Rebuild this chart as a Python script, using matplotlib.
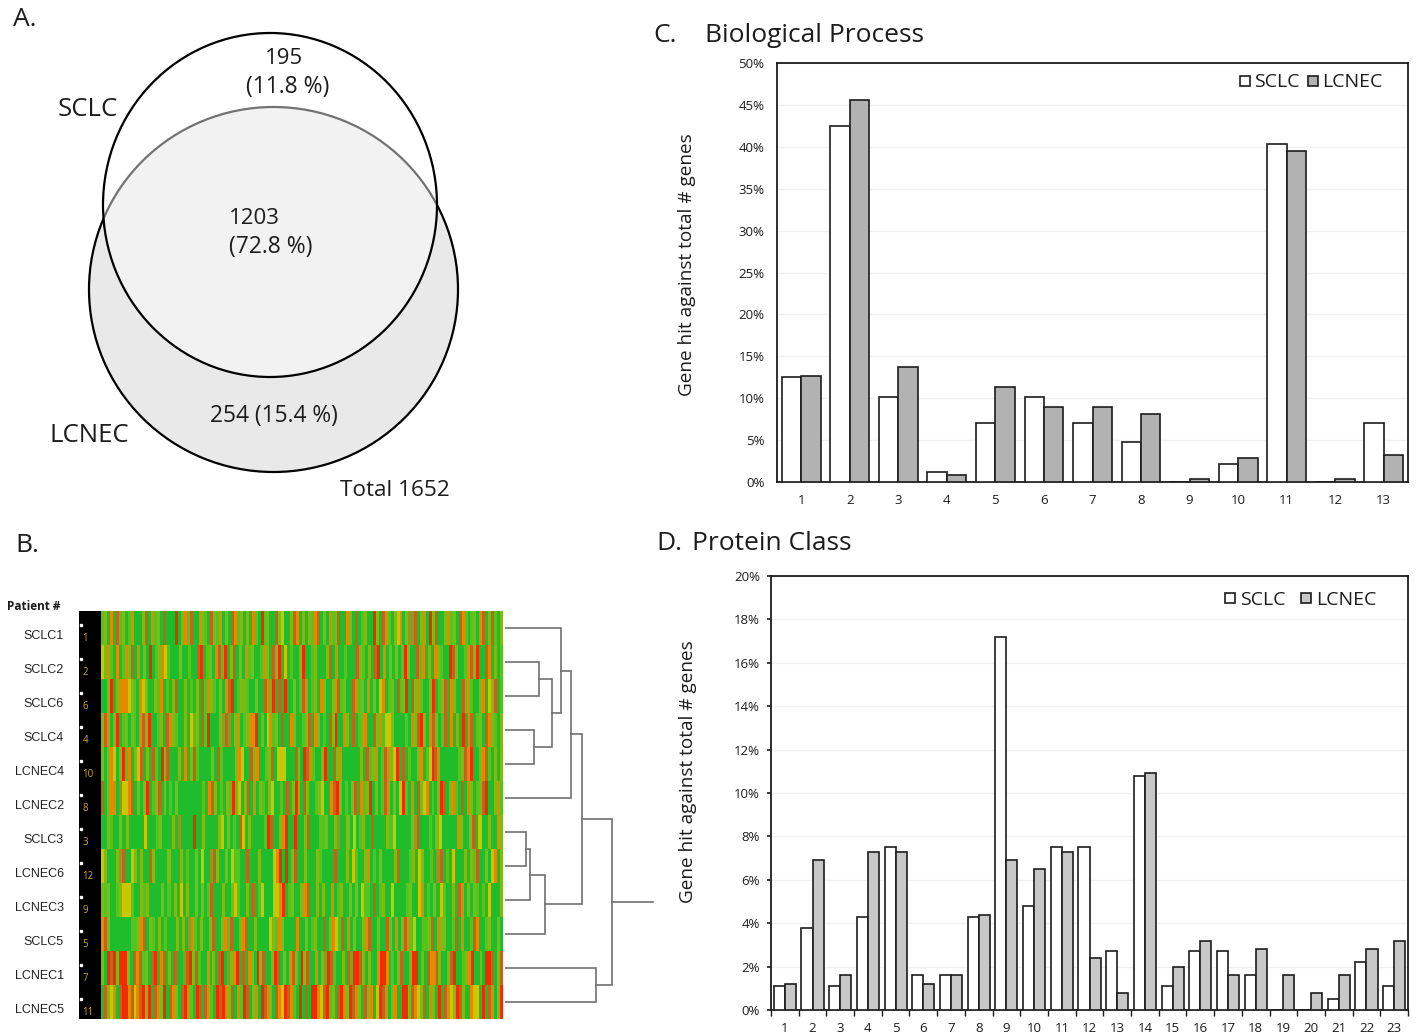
import numpy as np
import matplotlib
matplotlib.use('Agg')
import matplotlib.pyplot as plt
from matplotlib.colors import ListedColormap
from matplotlib.lines import Line2D
from matplotlib.patches import Ellipse

W, H = 1416, 1035

# panel A
venn_counts = [195, 1203, 254]
venn_pcts = [11.8, 72.8, 15.4]
venn_total = 1652

# panel B
patients = ['SCLC1', 'SCLC2', 'SCLC6', 'SCLC4', 'LCNEC4', 'LCNEC2',
            'SCLC3', 'LCNEC6', 'LCNEC3', 'SCLC5', 'LCNEC1', 'LCNEC5']
patient_ids = [1, 2, 6, 4, 10, 8, 3, 12, 9, 5, 7, 11]
# one letter per stripe, read by eye: g green, l light green, k olive green,
# b olive brown, y yellow, o orange, m rust, r red
level_names = 'glkbyomr'
level_colors = ['#1fbd2c', '#55c41e', '#7fbb14', '#8f9a20', '#c9c800', '#e58a00', '#c0651a', '#f22c00']
heat_rows = [
    'lkgogmlkglogggkmgolkgmgggrgkolmggoklgmklogkgmolkgkgolgrlkggmkyggkmogkgklomgkgolkmggokgmglkggrkgmolgkyogkbbmgkogrkmggkolkgmolglkgomgkmlgk',
    'ykolgoglokmgogkgrglkoylgggkgglggmrglkgomlrgkmgkgolkgglokgmkrgyglggkrgglkgggkmgogglgggmklgkgmrgogkgkglrkggmlogkgoklggrmkgglomkrggmogkgl',
    'ggkrgkoooyklgoykggkloglgkmggkglgkgmloklgkgomrglkklggkggmolrgmgrggkglmoglkgokggkomlkggmolkgogkgyoglkgmlkrgmkolggkrglkmgokggmkolggkogykmgl',
    'kmogkrglkgklgomkrgglkgmoklggkgylkgmlrgggkbmbgkoglkoorgkgyolkgmggokgglkmgokglgmkrggokgmglkoggmkolyykgggglgokmrkgomkglmgogkgrgomglkgmoklgk',
    'kgkoygkrlogkymgkgmlgrkmgggkgogkmlggggkgmlggggkoyggmkogglkmgyyygggmkgrmolggkrggmkoggggggkgmlkoglmokyrgmglggkoglyrmogggggglkmorggkomlgkgk',
    'mgkoogbyyomgkgkrglkmgkglgkgggggggglgomkglgklrlygkmgogklgkygglgmgkrogmkgglkyggomrkglgkmgolkrgkglmogkgyrlgogmkyoglgkrmgkolgmgokglkmrggkol',
    'ggklggkgkgggggyggglkgggkgbggggrggkggggkygkglgmygkgggglrmggkorggrggkmgggllkggkbggkgyglkggmggggklygggggkbmggglgkygggggokggkmgyggkggok',
    'ykgggkbmggykgkggmkggggkgggkglggkgyggbmkggkgyllggmgggkggggyorgrgkmggkgggklggggmgggkgylggkoglgkggggkmggglkgykgglgbmglgygggkgklmggkgyogk',
    'klkgglkyyylggklkggggkglgkgygkggkgkglmgggkggkylggkgmglygggyyorglkggkomggkgkggoglkggkgkgyllgmglkggygggglkggyoglgkgylggkgmogkgklglgygggk',
    'omkgggggggllkomgklgkglgggkgkgbolgkggkmggkolmggkomggkggggyklokggggoggkglkggmgkoylmgogkggkomggkggmkgogkmolyggllkmgokkgglmgogglmogglkggkg',
    'kgrmrkrrrkgmomlkgmrgomgkgmggbmrkmlggogkgmrgbkorgmgokgrkmggkrmgkgomkgrkmggogkbrmlggkgmbrrmkgkggorroglgkmggkrrgkgmoomkggkmrgglkorggkgrrmgkm',
    'gmkyogmrromyomrkrgmokrgmokgmrolgrmgmolgrmrokmgolrmgkogrmokgmoyrmolgrgmgrroymrlkgmrokrmokgmkogyrmogkoggrrkmoykmgokgrgmoykrmkggoyygrgmogkr',
]
# dendrogram merges: left node, right node, height in px from the heatmap
# node numbers below 12 are leaves, 12 and up are earlier merges
dendro_merges = [
    (1, 2, 34), (3, 4, 29), (12, 13, 47), (0, 14, 56), (15, 5, 66),
    (6, 7, 21), (17, 8, 25), (18, 9, 40), (16, 19, 77),
    (10, 11, 91), (20, 21, 107),
]
dendro_root_end = 148

# panel C
bio_cats = list(range(1, 14))
bio_sclc = [12.5, 42.5, 10.2, 1.2, 7.0, 10.2, 7.0, 4.8, 0, 2.2, 40.3, 0, 7.0]
bio_lcnec = [12.6, 45.6, 13.7, 0.8, 11.3, 8.9, 8.9, 8.1, 0.4, 2.9, 39.5, 0.4, 3.2]

# panel D
prot_cats = list(range(1, 24))
prot_sclc = [1.1, 3.8, 1.1, 4.3, 7.5, 1.6, 1.6, 4.3, 17.2, 4.8, 7.5, 7.5, 2.7, 10.8,
             1.1, 2.7, 2.7, 1.6, 0, 0, 0.5, 2.2, 1.1]
prot_lcnec = [1.2, 6.9, 1.6, 7.3, 7.3, 1.2, 1.6, 4.4, 6.9, 6.5, 7.3, 2.4, 0.8, 10.9,
              2.0, 3.2, 1.6, 2.8, 1.6, 0.8, 1.6, 2.8, 3.2]

plt.rcParams['font.family'] = ['Open Sans', 'DejaVu Sans']
INK = '#1c1c1c'


def px_axes(fig, left, top, right, bottom):
    return fig.add_axes([left / W, 1 - bottom / H, (right - left) / W, (bottom - top) / H])


def bar_panel(fig, box, cats, sclc, lcnec, fill, ymax, step, ylabel, ylabel_x, ylabel_y, legend_anchor, gap, ypad):
    ax = px_axes(fig, *box)
    x = np.arange(len(cats))
    ax.bar(x - 0.2, sclc, 0.4, color='white', edgecolor=INK, linewidth=1.2, zorder=3)
    ax.bar(x + 0.2, lcnec, 0.4, color=fill, edgecolor=INK, linewidth=1.2, zorder=3)
    ax.set_xlim(-0.5, len(cats) - 0.5)
    ax.set_ylim(0, ymax)
    ax.set_xticks(x)
    ax.set_xticklabels(cats, fontsize=9.5)
    ax.set_yticks(np.arange(0, ymax + 1, step))
    ax.set_yticklabels([f'{v}%' for v in range(0, ymax + 1, step)], fontsize=9.5)
    ax.tick_params(axis='both', length=0, colors=INK)
    ax.tick_params(axis='x', pad=9)
    ax.tick_params(axis='y', pad=ypad)
    ax.grid(axis='y', color='#f0f0f0', linewidth=1, zorder=0)
    ax.set_axisbelow(True)
    for s in ax.spines.values():
        s.set_color(INK)
        s.set_linewidth(1.3)
    fig.text(ylabel_x / W, 1 - ylabel_y / H, ylabel, rotation=90, fontsize=13.7,
             ha='center', va='center', color=INK)
    handles = [Line2D([], [], ls='', marker='s', ms=7.5, mfc='white', mec=INK, mew=1.2),
               Line2D([], [], ls='', marker='s', ms=7.5, mfc=fill, mec=INK, mew=1.2)]
    ax.legend(handles, ['SCLC', 'LCNEC'], ncol=2, frameon=False, fontsize=14, loc='upper right',
              bbox_to_anchor=legend_anchor, handlelength=0.6, handletextpad=0.2,
              columnspacing=gap, borderaxespad=0, borderpad=0, labelcolor=INK)
    return ax


fig = plt.figure(figsize=(W / 100, H / 100), dpi=100, facecolor='white')
canvas = fig.add_axes([0, 0, 1, 1])
canvas.set_xlim(0, W)
canvas.set_ylim(H, 0)
canvas.axis('off')


def label(x, y, s, size, **kw):
    kw.setdefault('ha', 'left')
    canvas.text(x, y, s, fontsize=size, va='center', color=INK, **kw)


# A: venn
canvas.add_patch(Ellipse((273.5, 289.5), 369, 365, fc='#e9e9e9', ec='black', lw=1.6))
canvas.add_patch(Ellipse((270, 205), 334, 344, fc=(1, 1, 1, 0.45), ec='black', lw=1.6))
label(13, 19, 'A.', 19)
label(58, 110, 'SCLC', 18.5)
label(49, 436, 'LCNEC', 18.5)
label(284, 58, f'{venn_counts[0]}', 16, ha='center')
label(288, 87, f'({venn_pcts[0]} %)', 16.5, ha='center')
label(229, 219, f'{venn_counts[1]}', 16)
label(229, 247, f'({venn_pcts[1]} %)', 16.5)
label(210, 416, f'{venn_counts[2]} ({venn_pcts[2]} %)', 16.4)
label(340, 490, f'Total {venn_total}', 16.2)

# B: heatmap
label(15, 545, 'B.', 19)
label(7, 607, 'Patient #', 8.5, fontweight='bold')
heat = px_axes(fig, 101, 611, 503, 1019)
cmap = ListedColormap(level_colors)
for r, row in enumerate(heat_rows):
    vals = np.array([[level_names.index(c) for c in row]])
    heat.imshow(vals, cmap=cmap, vmin=0, vmax=7, aspect='auto', extent=[0, 1, r + 1, r],
                interpolation='nearest')
heat.set_xlim(0, 1)
heat.set_ylim(12, 0)
heat.axis('off')

ids = px_axes(fig, 79, 611, 101, 1019)
ids.set_facecolor('black')
ids.set_xlim(0, 1)
ids.set_ylim(12, 0)
ids.set_xticks([])
ids.set_yticks([])
for s in ids.spines.values():
    s.set_visible(False)
for r, (name, pid) in enumerate(zip(patients, patient_ids)):
    ids.text(0.16, r + 0.8, str(pid), color='#c8a820', fontsize=7, va='center')
    ids.plot(0.08, r + 0.42, 's', color='white', ms=1.5)
    canvas.text(64, 613 + 34 * (r + 0.68), name, family=['Liberation Sans'], fontsize=9, ha='right',
                va='center', color='#222222')

# B: dendrogram
tree = px_axes(fig, 505, 611, 655, 1019)
tree.set_xlim(0, 150)
tree.set_ylim(12, 0)
tree.axis('off')
node_y = [i + 0.5 for i in range(12)]
node_x = [0] * 12
for a, b, h in dendro_merges:
    tree.plot([node_x[a], h, h, node_x[b]], [node_y[a], node_y[a], node_y[b], node_y[b]],
              color='#6f6f6f', lw=1.2, solid_joinstyle='miter')
    node_x.append(h)
    node_y.append((node_y[a] + node_y[b]) / 2)
tree.plot([node_x[-1], dendro_root_end], [node_y[-1], node_y[-1]], color='#6f6f6f', lw=1.2)

# C and D
label(653, 36, 'C.', 19)
label(705, 36, 'Biological Process', 19)
bar_panel(fig, (777, 63, 1408, 482), bio_cats, bio_sclc, bio_lcnec, '#b2b2b2', 50, 5,
          'Gene hit against total # genes', 687, 265, (0.96, 0.975), 0.35, 9)

label(656, 543, 'D.', 19)
label(692, 543, 'Protein Class', 19)
axd = bar_panel(fig, (771, 576, 1408, 1010), prot_cats, prot_sclc, prot_lcnec, '#c8c8c8', 20, 2,
                'Gene hit against total # genes', 688, 772, (0.95, 0.966), 0.75, 5)
axd.tick_params(axis='y', length=3, width=1.2, color=INK)
axd.set_xticks(np.arange(-0.5, len(prot_cats)), minor=True)
axd.tick_params(axis='x', which='minor', length=4, color=INK, width=1)

fig.savefig('out.png', dpi=100)
